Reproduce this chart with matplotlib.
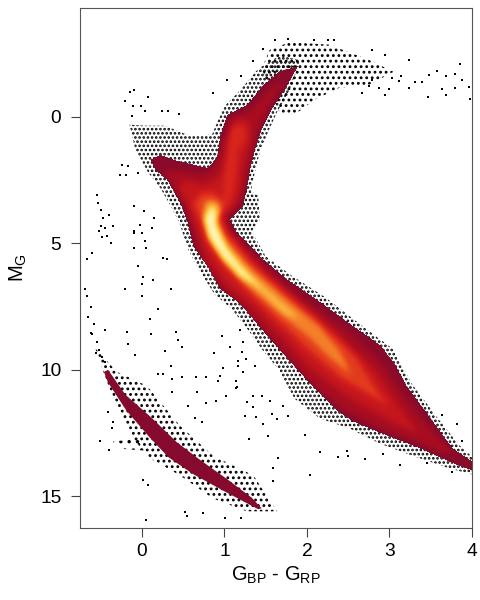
import numpy as np
import matplotlib
matplotlib.use("Agg")
import matplotlib.pyplot as plt
from matplotlib.path import Path
from matplotlib.patches import Polygon
from matplotlib.colors import LinearSegmentedColormap

plt.rcParams['font.family'] = ['Liberation Sans', 'DejaVu Sans']
plt.rcParams['mathtext.default'] = 'regular'
plt.rcParams['hatch.linewidth'] = 1.25

x_ticks = [0, 1, 2, 3, 4]
y_ticks = [0, 5, 10, 15]
x_label = r'$G_{BP}$ - $G_{RP}$'
y_label = r'$M_G$'

# Stippled outskirts of the populations (colour, magnitude outlines)
fringe_main = [(1.92,-2.24),(1.79,-1.06),(1.64,-.20),(1.53,.59),(1.43,1.38),(1.37,2.17),(1.32,2.95),(1.41,3.11),
    (1.43,4.06),(1.33,4.53),(1.50,5.51),(1.79,6.22),(2.22,7.13),(2.64,8.19),(3.04,9.17),(3.27,10.55),(3.59,11.93),
    (3.85,12.99),(4.00,13.43),(4.00,14.13),(3.73,13.90),(3.31,13.43),(2.88,12.91),(2.52,12.32),(2.16,11.93),
    (1.85,11.14),(1.65,9.96),(1.45,9.17),(1.28,8.39),(1.09,7.60),(.88,7.01),(.70,6.10),(.56,5.24),(.46,4.25),
    (.36,3.58),(.22,2.80),(.07,2.17),(-.08,1.30),(-.15,.31),(.04,.35),(.28,.35),(.58,.75),(.85,.70),(.92,.15),
    (1.01,-.45),(1.19,-1.05),(1.41,-1.9),(1.67,-2.42)]
fringe_giants = [(1.45,-1.9),(1.55,-2.65),(1.79,-2.95),(2.27,-2.85),(2.75,-2.25),(3.05,-1.78),(2.75,-1.26),
    (2.39,-1.14),(2.09,-.67),(1.85,-.08),(1.67,-.16)]
fringe_wd = [(-.59,9.06),(-.30,10.08),(.06,10.63),(.46,12.20),(.86,13.39),(1.35,14.17),(1.64,15.59),(1.27,15.59),
    (.86,15.08),(.46,14.17),(.10,13.50),(-.11,12.72),(-.39,10.75),(-.51,9.69)]
fringe_wd_knot = [(-.35,12.83),(-.02,12.72),(.04,13.19),(-.29,13.11)]

# Density contours (outer to inner)
level_values = [0.10, 0.24, 0.38, 0.50, 0.56, 0.70, 0.84, 0.96, 1.00]
level_outer = [(1.89,-2.01),(1.73,-1.06),(1.58,-.35),(1.45,.51),(1.37,1.30),(1.31,2.09),(1.27,2.87),(1.22,3.54),
    (1.07,4.06),(1.15,4.57),(1.47,5.63),(1.76,6.42),(2.16,7.32),(2.56,8.27),(2.90,9.05),(3.08,9.85),(3.21,10.63),
    (3.53,12.05),(3.77,13.11),(4.00,13.62),(4.00,13.98),(3.77,13.70),(3.37,13.11),(2.97,12.60),(2.56,12.05),(2.36,11.61),
    (1.95,10.24),(1.55,8.78),(1.19,7.40),(.95,6.81),(.79,5.91),(.62,5.12),(.55,4.17),(.46,3.39),(.30,2.48),
    (.16,2.09),(.10,1.69),(.22,1.50),(.42,1.73),(.79,2.01),(.91,1.61),(.95,.71),(1.03,-.08),(1.27,-.47),
    (1.47,-1.26),(1.67,-1.81)]
level_crimson = [(1.73,-1.54),(1.55,-.47),(1.41,.51),(1.31,1.89),(1.25,2.87),(1.19,3.46),(1.02,4.06),(1.09,4.53),
    (1.41,5.55),(1.73,6.61),(2.16,7.68),(2.58,8.70),(2.91,9.76),(3.15,10.94),(3.49,12.32),(3.79,13.31),(3.67,13.31),
    (3.31,12.83),(2.88,12.32),(2.46,11.61),(2.04,10.55),(1.67,9.17),(1.37,8.07),(1.13,7.32),(.88,6.54),(.70,5.55),
    (.61,4.45),(.50,3.46),(.34,2.60),(.22,2.17),(.40,2.09),(.76,2.28),(.88,1.89),(.97,.91),(1.07,.04),(1.31,-.28),
    (1.53,-1.06)]
level_red = [(1.16,.04),(1.31,.20),(1.31,.91),(1.22,1.89),(1.19,2.87),(1.13,3.46),(.97,3.98),(1.01,4.45),(1.31,5.65),
    (1.79,6.95),(2.34,8.50),(2.82,10.0),(3.07,11.2),(3.35,12.50),(3.07,12.13),(2.52,11.14),(2.04,9.96),(1.67,8.58),
    (1.31,7.40),(1.01,6.61),(.79,5.55),(.68,4.65),(.58,3.66),(.44,2.80),(.52,2.48),(.76,2.68),(.95,2.28),(1.03,1.30),
    (1.07,.51)]
level_giant_stripe = [(1.09,.31),(1.25,.39),(1.26,.91),(1.16,1.30),(1.14,2.28),(1.10,3.07),(1.04,3.58),(.97,3.46),
    (.99,2.48),(1.02,1.50),(1.04,.91)]
level_redorange = [(.70,2.99),(.88,2.95),(1.01,3.46),(.97,3.98),(1.04,4.53),(1.31,5.60),(1.67,6.75),(2.16,8.05),
    (2.60,9.45),(2.85,10.75),(3.0,11.45),(2.80,11.10),(2.40,10.35),(1.98,9.17),(1.61,7.99),(1.28,6.93),(1.01,6.02),
    (.80,5.04),(.70,4.06),(.61,3.46)]
level_orange = [(.76,3.27),(.92,3.27),(.97,3.74),(.90,4.13),(1.01,4.84),(1.31,5.94),(1.73,7.13),(2.16,8.30),(2.40,9.25),
    (2.55,10.25),(2.30,9.60),(2.04,8.78),(1.67,7.80),(1.31,6.81),(1.01,5.83),(.82,4.84),(.73,3.98)]
level_amber = [(.79,3.46),(.90,3.46),(.92,3.82),(.87,4.21),(1.01,5.14),(1.31,6.22),(1.67,7.28),(1.92,7.99),(1.73,7.80),
    (1.43,6.89),(1.13,6.02),(.91,5.24),(.76,4.25)]
level_yellow = [(.78,3.70),(.89,3.58),(.91,4.25),(1.03,5.14),(1.25,6.05),(1.45,6.80),(1.19,6.35),(.97,5.60),(.80,4.78),
    (.75,4.13)]
level_pale = [(.77,3.94),(.88,3.74),(.90,4.37),(1.00,5.14),(1.14,5.80),(.92,5.30),(.79,4.58)]
levels = [level_outer, level_crimson, level_red, level_giant_stripe, level_redorange,
          level_orange, level_amber, level_yellow, level_pale]

wd_band = [(-.41,10.0),(-.20,10.98),(.12,11.90),(.42,12.85),(.68,13.50),(1.05,14.36),(1.33,15.05),(1.45,15.47),
    (1.41,15.51),(1.00,14.80),(.62,14.12),(.32,13.45),(.08,12.62),(-.19,11.60),(-.41,10.50),(-.46,10.08)]

# Individually read stars
stray = [(2.79,-2.64),(2.95,-2.45),(3.24,-2.25),(3.48,-1.65),(3.58,-1.81),(3.68,-1.6),(3.79,-1.7),(3.85,-2.09),
    (3.88,-1.46),(3.96,-1.18),(3.98,-.71),(3.79,-1.14),(3.68,-.87),(3.47,-.79),(3.64,-1.1),(3.39,-1.38),(3.31,-1.38),
    (3.24,-1.14),(3.14,-1.61),(3.12,-1.42),(3.03,-1.54),(2.95,-.87),(3.0,-1.1),(2.87,-1.14),(2.79,-1.46),(2.75,-1.22),
    (2.67,-.94),(2.08,-3.03),(1.77,-3.07),(2.25,-3.03),(2.33,-3.03),
    (-.62,8.54),(-.45,8.43),(-.18,8.5),(.11,8.58),(.41,8.5),(.44,8.82),(.48,9.09),(.28,9.25),(-.08,9.41),(-.17,8.98),
    (.87,9.33),(.97,8.66),(1.07,9.09),(1.19,8.43),(1.22,8.9),(1.16,9.65),(1.21,9.29),(1.26,9.57),(.98,9.92),(1.16,9.84),
    (1.37,9.84),(1.22,10.08),(.35,9.84),(.19,10.16),(.25,10.16),(.36,10.35),(.48,10.28),(.65,10.28),(.78,10.28),
    (.95,10.24),(.92,10.43),(1.14,10.43),(1.14,10.71),(.36,10.87),(.67,10.87),(.90,11.22),(1.02,11.02),(.78,11.3),
    (.56,11.42),(.64,11.89),(.73,12.05),(1.25,11.81),(1.38,11.85),(1.47,12.13),(1.3,12.72),(1.53,12.6),(1.65,13.5),
    (1.59,13.86),(1.59,14.41),(.01,14.37),(.07,14.57),(.52,15.63),(.55,15.79),(.05,15.94),(.74,15.67),(1.01,15.87),
    (1.2,15.87),(-.51,12.83),(-.4,13.15),(-.41,11.65),(-.35,12.05),(-.36,12.28),
    (-.69,6.8),(-.66,7.1),(-.62,7.5),(-.65,7.9),(-.58,8.2),(-.6,8.6),(-.55,8.9),(-.52,9.2),(-.48,9.5),(-.56,9.35),(-.45,9.7),
    (-.55,3.1),(-.53,3.4),(-.5,3.7),(-.47,4.0),(-.5,4.3),(-.45,4.4),(-.42,4.7),(-.52,4.5),(-.48,4.75),(-.4,3.9),(-.6,5.4),
    (-.66,5.6),(-.38,5.0),(-.35,4.3),(-.1,4.6),(.0,4.6),(.12,4.4),(.05,5.2),(.3,5.6),(-.05,5.9),(.35,6.8),(.2,7.6),(.1,8.0),
    (-.2,6.8),(.0,7.1),(-.10,3.54),(.02,3.74),(.15,3.98),(-.02,4.29),(-.10,4.53),(.04,4.92),(-.10,5.2),(.25,5.59),(.01,6.34),
    (0,6.61),(.13,6.46),(-.15,-.98),(-.1,-1.06),(-.21,-.63),(.08,-.79),(-.11,-.43),(-.01,-.43),(.04,-.24),(-.12,-.04),
    (.45,-.12),(.24,-.24),(.32,-.24),(.86,-.94),(1.03,-1.46),(1.47,-2.68),(1.61,-3.03),(1.35,-2.2),(1.2,-1.61),(-.24,1.89),
    (-.17,1.93),(-.27,2.28),(-.19,2.28),(-.05,2.24),
    (2.48,13.19),(2.16,13.23),(2.38,13.43),(2.5,13.39),(2.7,13.54),(2.92,13.31),(3.13,13.78),(2.04,14.17),(3.45,13.7),
    (3.76,14.02),(3.82,12.13),(3.88,12.83),(3.64,11.77),(1.98,12.56),(1.64,11.93),(1.77,11.81),(1.58,11.73),(1.35,11.46),
    (1.15,10.67),(1.35,11.02),(1.27,11.26),(1.45,11.02),(1.55,11.22),(1.71,11.42)]

colour_stops = [(0.0,'#860a2c'),(0.10,'#8a0a2a'),(0.24,'#a80d20'),(0.38,'#c4161c'),(0.50,'#d9261c'),(0.60,'#e8481e'),
                (0.70,'#f4802a'),(0.82,'#fbb840'),(0.90,'#fddc6c'),(1.0,'#fff6b8')]
heat = LinearSegmentedColormap.from_list('heat', colour_stops)

fig = plt.figure(figsize=(4.8, 6.0), dpi=100)
ax = fig.add_axes([80/480, 1-528/600, 392/480, 520/600])
xlim = (-0.75, 4.0)
ylim = (16.25, -4.3)
ax.set_xlim(*xlim)
ax.set_ylim(*ylim)

stipple = [(fringe_giants, '...'), (fringe_main, '....'), (fringe_wd, '...'), (fringe_wd_knot, '..')]
for outline, hatch in stipple:
    ax.add_patch(Polygon(outline, closed=True, facecolor='none', edgecolor='black', lw=0, hatch=hatch, zorder=1))

# Fill the contours on a pixel grid, soften their steps, show with the colour scale
nx, ny = 392, 520
cx = np.linspace(xlim[0], xlim[1], nx)
cy = np.linspace(ylim[1], ylim[0], ny)
gx, gy = np.meshgrid(cx, cy)
pts = np.column_stack([gx.ravel(), gy.ravel()])
field = np.zeros((ny, nx))
outer_mask = None
for poly, val in zip(levels, level_values):
    m = Path(poly).contains_points(pts).reshape(ny, nx)
    if outer_mask is None:
        outer_mask = m
    field[m] = np.maximum(field[m], val)
kernel = np.ones(7) / 7
for _ in range(2):
    field = np.apply_along_axis(lambda r: np.convolve(r, kernel, mode='same'), 0, field)
    field = np.apply_along_axis(lambda r: np.convolve(r, kernel, mode='same'), 1, field)
ax.imshow(np.ma.masked_where(~outer_mask, field), extent=[xlim[0], xlim[1], ylim[0], ylim[1]], origin='upper',
          cmap=heat, vmin=0, vmax=1, aspect='auto', interpolation='nearest', zorder=2)
ax.set_xlim(*xlim)
ax.set_ylim(*ylim)
ax.add_patch(Polygon(wd_band, closed=True, facecolor='#860a2e', edgecolor='none', zorder=2))

sx, sy = zip(*stray)
ax.scatter(sx, sy, s=1.6, c='black', marker='s', linewidths=0, zorder=3)

ax.set_xticks(x_ticks)
ax.set_yticks(y_ticks)
ax.tick_params(axis='both', length=6.5, width=0.8, color='#444444', labelsize=13.8, labelcolor='black', pad=4)
ax.tick_params(axis='y', pad=7)
for s in ax.spines.values():
    s.set_color('#555555')
    s.set_linewidth(0.8)
ax.set_xlabel(x_label, fontsize=14.5, labelpad=4)
ax.set_ylabel(y_label, fontsize=14.5, labelpad=8)
fig.savefig('out.png', dpi=100)
